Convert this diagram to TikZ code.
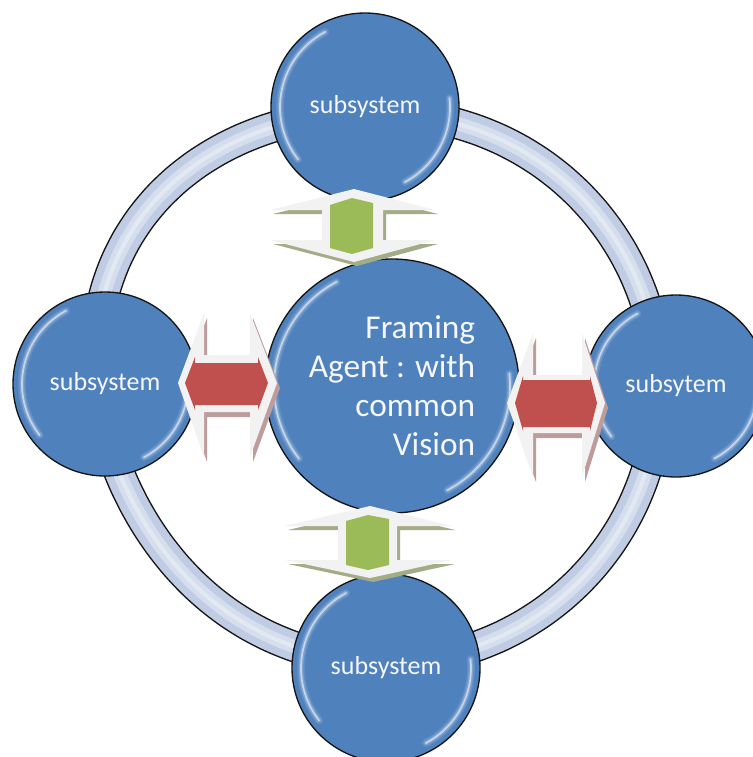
\documentclass[tikz,border=0pt]{standalone}
\usepackage{fontspec}
\setmainfont{Carlito}
\definecolor{bubble}{HTML}{4F81BD}
\definecolor{rimline}{HTML}{151515}
\definecolor{ringfill}{HTML}{BFCCE3}
\definecolor{ringhi}{HTML}{E4EAF5}
\definecolor{plate}{HTML}{F2F2F2}
\definecolor{greenhex}{HTML}{9BBB59}
\definecolor{redbar}{HTML}{C0504D}
\definecolor{greenshade}{HTML}{A2AC87}
\definecolor{redshade}{HTML}{BD9C9C}
\definecolor{labelwhite}{HTML}{F5F7FB}

% glossy highlight arcs inside a bubble (y axis points down, so angles are mirrored)
\newcommand{\gloss}[2]{%
  \pgfmathsetmacro\glr{#2-9}%
  \foreach \sa/\ea in {-118/-218, 62/-6} {
    \draw[white, opacity=0.10, line width=6pt, line cap=round]
      (#1.center) ++(\sa:\glr) arc[start angle=\sa, end angle=\ea, radius=\glr];
    \draw[white, opacity=0.20, line width=3.5pt, line cap=round]
      (#1.center) ++(\sa:\glr) arc[start angle=\sa, end angle=\ea, radius=\glr];
    \draw[white, opacity=0.55, line width=1.3pt, line cap=round]
      (#1.center) ++(\sa:\glr) arc[start angle=\sa, end angle=\ea, radius=\glr];
  }%
}

\begin{document}
\begin{tikzpicture}[x=0.75pt, y=-0.75pt,
  declare function={ringr(\t)=274+24*(max(0,cos(\t-150)))^4;},
  bubblebox/.style={circle, fill=bubble, draw=rimline, line width=1pt,
    text=labelwhite, inner sep=0pt},
  subsys/.style={bubblebox, font=\fontsize{19.5}{23}\selectfont},
  platebox/.style={fill=plate}]

\fill[white] (0,0) rectangle (753,757);
\useasboundingbox (0,0) rectangle (753,757);
\clip (0,0) rectangle (753,757);

% outer ring linking the subsystems
\def\ringcurve{plot[smooth cycle, samples=72, domain=0:355, variable=\t]
  ({385+ringr(\t)*cos(\t)}, {388-ringr(\t)*sin(\t)})}
\draw[rimline, line width=23.5pt] \ringcurve;
\draw[ringfill, line width=21.3pt] \ringcurve;
\draw[ringhi, opacity=0.6, line width=10pt] \ringcurve;
\draw[white, opacity=0.35, line width=3pt] \ringcurve;

% bubbles
\node[subsys, minimum size=141pt] (top) at (365,107) {subsystem};
\node[subsys, minimum size=138pt] (left) at (105,384) {subsystem};
\node[subsys, minimum size=136.5pt] (right) at (676,386) {subsytem};
\node[subsys, minimum size=141pt] (bottom) at (386,668) {subsystem};
\node[bubblebox, minimum size=190.5pt, align=right,
  font=\fontsize{25}{29.3}\selectfont] (agent) at (392,386)
  {Framing\\Agent : with\\common\\Vision};

\gloss{top}{94}
\gloss{left}{92}
\gloss{right}{91}
\gloss{bottom}{94}
\gloss{agent}{127}

% upper link: vertical double arrow with green core
\def\upperplate{(354,189) -- (435,210) -- (383,210) -- (383,240) -- (435,240)
  -- (354,262) -- (270,240) -- (322,240) -- (322,210) -- (270,210) -- cycle}
\fill[greenshade, shift={(3,4)}] \upperplate;
\fill[plate] \upperplate;
\fill[greenhex] (330,205) -- (352,198) -- (373,203) -- (373,248) -- (352,254)
  -- (330,248) -- cycle;

% lower link
\def\lowerplate{(370,506) -- (452,526) -- (397,526) -- (397,560) -- (452,560)
  -- (370,578) -- (285,560) -- (338,560) -- (338,526) -- (285,526) -- cycle}
\fill[greenshade, shift={(3,4)}] \lowerplate;
\fill[plate] \lowerplate;
\fill[greenhex] (346,521) -- (368,515) -- (389,519) -- (389,565) -- (368,570)
  -- (346,565) -- cycle;

% left link: horizontal double arrow with red core
\def\leftplate{(178,383) -- (204,313) -- (204,355) -- (250,355) -- (250,313)
  -- (277,383) -- (250,457) -- (250,412) -- (204,412) -- (204,457) -- cycle}
\fill[redshade, shift={(3,5)}] \leftplate;
\fill[plate] \leftplate;
\fill[redbar] (185,383) -- (195,357) -- (195,363) -- (258,363) -- (258,357)
  -- (268,383) -- (258,410) -- (258,405) -- (195,405) -- (195,410) -- cycle;

% right link
\def\rightplate{(507,403) -- (533,333) -- (533,375) -- (582,375) -- (582,333)
  -- (605,403) -- (582,477) -- (582,433) -- (533,433) -- (533,477) -- cycle}
\fill[redshade, shift={(3,5)}] \rightplate;
\fill[plate] \rightplate;
\fill[redbar] (515,403) -- (523,376) -- (523,380) -- (590,380) -- (590,376)
  -- (597,403) -- (590,431) -- (590,427) -- (523,427) -- (523,431) -- cycle;

\end{tikzpicture}
\end{document}
